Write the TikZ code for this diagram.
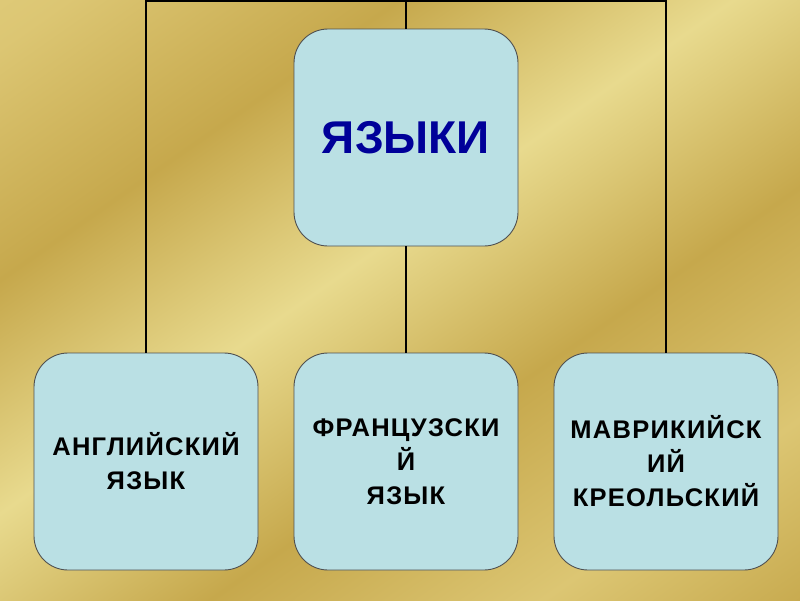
\documentclass[tikz,border=0pt]{standalone}
\usepackage{fontspec}
\setmainfont{Liberation Sans}
\newfontfamily\spacedfont[LetterSpace=5]{Liberation Sans}
\definecolor{gA}{HTML}{E8DA8E}
\definecolor{gB}{HTML}{C6A84C}
\definecolor{gC}{HTML}{DCC673}
\definecolor{boxfill}{HTML}{BAE0E4}
\definecolor{boxline}{HTML}{505050}
\definecolor{titleblue}{HTML}{000099}
\pgfdeclarehorizontalshading{goldbg}{100bp}{color(0bp)=(gA); color(18bp)=(gC); color(32bp)=(gB); color(46bp)=(gA); color(60bp)=(gB); color(74bp)=(gC); color(86bp)=(gB); color(100bp)=(gA)}
\tikzset{
  langbox/.style={draw=boxline, line width=0.9pt, fill=boxfill, rounded corners=34pt,
    minimum width=224pt, minimum height=217pt, align=center, inner sep=0pt},
  smalltext/.style={font={\spacedfont\bfseries\fontsize{25.5}{34}\selectfont}, text=black},
  link/.style={draw=black, line width=2pt}
}
\begin{document}
\begin{tikzpicture}[x=1pt,y=-1pt]
\useasboundingbox (0,0) rectangle (800,600);
\shade[shading=goldbg, shading angle=-55] (0,0) rectangle (800,600);
\coordinate (tl) at (146,1);
\coordinate (tr) at (666,1);
\node[langbox, font={\bfseries\fontsize{46}{56}\selectfont}, text=titleblue] (top) at (406,137.5) {ЯЗЫКИ};
\node[langbox, smalltext] (l) at (146,461.5) {АНГЛИЙСКИЙ\\ЯЗЫК};
\node[langbox, smalltext] (m) at (406,461.5) {ФРАНЦУЗСКИ\\Й\\ЯЗЫК};
\node[langbox, smalltext] (r) at (666,461.5) {МАВРИКИЙСК\\ИЙ\\КРЕОЛЬСКИЙ};
\draw[link] (l.north) -- (tl) -- (tr) -- (r.north);
\draw[link] (top.north) -- (top.north |- tl);
\draw[link] (top.south) -- (m.north);
\end{tikzpicture}
\end{document}
